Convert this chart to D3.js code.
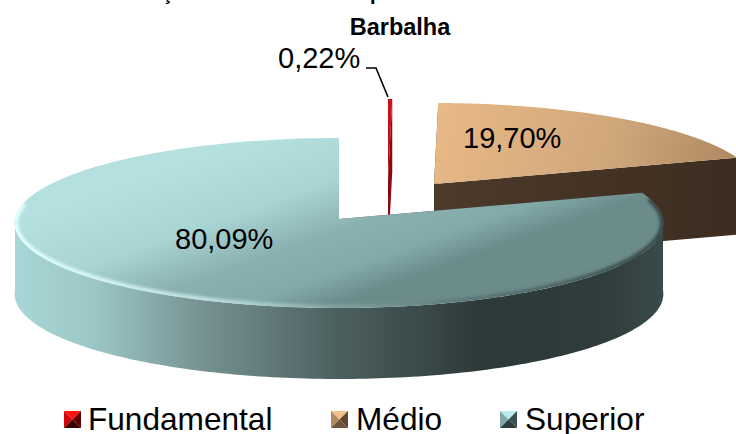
<!DOCTYPE html>
<html><head><meta charset="utf-8">
<script src="https://cdn.jsdelivr.net/npm/d3@7"></script>
<style>html,body{margin:0;padding:0;background:#fff}svg{display:block}text{font-family:"Liberation Sans",Arial,sans-serif;fill:#000}</style>
</head><body><svg id="c" width="736" height="434"></svg>
<script>
const categories = ["Fundamental", "Médio", "Superior"];
const values = [0.22, 19.70, 80.09];
const labels = ["0,22%", "19,70%", "80,09%"];
const subtitle = "Barbalha";

const W = 736, H = 434;
const svg = d3.select("#c");
const defs = svg.append("defs");

// pie layout + perspective projection of the unit disc on screen
const pie = d3.pie().value(d => d).sort(null).startAngle(0).endAngle(2 * Math.PI);
const arcs = pie(values);
const apex = [339, 219], RX = 324, A = 84.8, K = 0.047;
const proj = (r, t) => {
  const u = r * Math.sin(t), v = r * Math.cos(t), w = 1 + K * v;
  return [apex[0] + RX * u / w, apex[1] - A * v / w];
};
const offsets = [[49, -39], [95, -35], [0, 0]];
const depths = [72, 77, 71];
const samples = (a, b, n = 160) => d3.range(n + 1).map(i => a + (b - a) * i / n);
const line = d3.line();
const off = (p, o, dy = 0) => [p[0] + o[0], p[1] + o[1] + dy];

function linGrad(id, x1, y1, x2, y2, stops) {
  const g = defs.append("linearGradient").attr("id", id).attr("gradientUnits", "userSpaceOnUse")
    .attr("x1", x1).attr("y1", y1).attr("x2", x2).attr("y2", y2);
  stops.forEach(s => g.append("stop").attr("offset", s[0]).attr("stop-color", s[1]).attr("stop-opacity", s[2] === undefined ? 1 : s[2]));
}
linGrad("redTop", 388, 99, 388, 215, [[0, "#d01018"], [0.6, "#b80c14"], [1, "#8a0a10"]]);
linGrad("medTop", 440, 100, 750, 190, [[0, "#e9b987"], [0.55, "#d0a77b"], [1, "#a9835c"]]);
linGrad("medSide", 434, 0, 736, 0, [[0, "#4c3a2a"], [1, "#3d2d20"]]);
linGrad("supTop", 230, 150, 290, 320, [[0, "#b4e0e0"], [0.35, "#a8d4d4"], [0.62, "#8bb0b0"], [0.84, "#83a9a9"], [1, "#6c8c8c"]]);
linGrad("supSide", 15, 0, 663, 0, [[0, "#a9d6d6"], [0.12, "#9cc7c7"], [0.3, "#748f8f"], [0.5, "#4c5f5f"], [0.72, "#2d3939"], [0.9, "#2f3c3c"], [1, "#3a4949"]]);
linGrad("bevel", 15, 0, 663, 0, [[0, "#e4ffff", 1], [0.3, "#d4f4f4", 0.7], [0.52, "#c0e0e0", 0.2], [0.68, "#334444", 0.25], [1, "#2b3838", 0.8]]);
defs.append("filter").attr("id", "soft").attr("x", "-5%").attr("y", "-10%").attr("width", "110%").attr("height", "120%")
  .append("feGaussianBlur").attr("stdDeviation", 1.8);

const topFill = ["url(#redTop)", "url(#medTop)", "url(#supTop)"];
const sideFill = ["#8a0a10", "url(#medSide)", "url(#supSide)"];

// one extruded slice per data point, painted back to front
arcs.forEach((d, i) => {
  const o = offsets[i], h = depths[i];
  const c = off(apex, o);
  const g = svg.append("g").attr("class", "slice");
  // cut walls
  [d.startAngle, d.endAngle].forEach(t => {
    const p = off(proj(1, t), o);
    g.append("path").attr("d", line([c, p, [p[0], p[1] + h], [c[0], c[1] + h]]) + "Z").attr("fill", sideFill[i]);
  });
  // outer wall: only the front-facing part of the rim
  const a = Math.max(d.startAngle, Math.PI / 2), b = Math.min(d.endAngle, Math.PI * 1.5);
  if (b > a) {
    const ts = samples(a, b);
    const up = ts.map(t => off(proj(1, t), o));
    const low = ts.map(t => off(proj(1, t), o, h));
    g.append("path").attr("d", line(up.concat(low.reverse())) + "Z").attr("fill", sideFill[i]);
  }
  const rim = samples(d.startAngle, d.endAngle).map(t => off(proj(1, t), o));
  const face = line([c].concat(rim)) + "Z";
  g.append("path").attr("d", face).attr("fill", topFill[i]);
  if (i === 2) {
    defs.append("clipPath").attr("id", "faceClip").append("path").attr("d", face);
    const front = samples(Math.max(d.startAngle, Math.PI * 0.42), Math.PI * 1.56).map(t => off(proj(1, t), o));
    g.append("g").attr("clip-path", "url(#faceClip)").append("path").attr("d", line(front)).attr("fill", "none").attr("stroke", "url(#bevel)")
      .attr("stroke-width", 7).attr("filter", "url(#soft)");
  }
});

// title remnants cut off by the top edge of the image
const title = svg.append("text").attr("font-weight", "bold").attr("font-size", 20);
title.append("tspan").attr("x", 162).attr("y", 0).text("ç");
title.append("tspan").attr("x", 370).attr("y", 0).text("p");

svg.append("text").attr("x", 400).attr("y", 35).attr("text-anchor", "middle")
  .attr("font-weight", "bold").attr("font-size", 23.5).text(subtitle);

const labelPos = [[278, 68], [463, 148], [175, 249]];
labels.forEach((t, i) => svg.append("text").attr("x", labelPos[i][0]).attr("y", labelPos[i][1]).attr("font-size", 29).text(t));

svg.append("path").attr("d", line([[366, 68], [376, 68], [388, 97]])).attr("fill", "none").attr("stroke", "#000").attr("stroke-width", 1.6);

// legend
const legendX = [64, 331, 500], legendTextX = [88, 356, 525];
const bevels = [
  ["#ff1414", "#d00808", "#600000", "#3c0000"],
  ["#f2c08c", "#b08a60", "#5e4630", "#6e553c"],
  ["#b8eef0", "#7fa8a8", "#3c5050", "#2c3c3c"]
];
const S = 17, LY = 411;
categories.forEach((c, i) => {
  const x = legendX[i], m = [x + S / 2, LY + S / 2];
  const tl = [x, LY], tr = [x + S, LY], br = [x + S, LY + S], bl = [x, LY + S];
  [[tl, tr], [tl, bl], [tr, br], [bl, br]].forEach((e, k) =>
    svg.append("path").attr("d", line([e[0], e[1], m]) + "Z").attr("fill", bevels[i][k]));
  svg.append("text").attr("x", legendTextX[i]).attr("y", 430).attr("font-size", 31.6).text(c);
});
</script></body></html>
